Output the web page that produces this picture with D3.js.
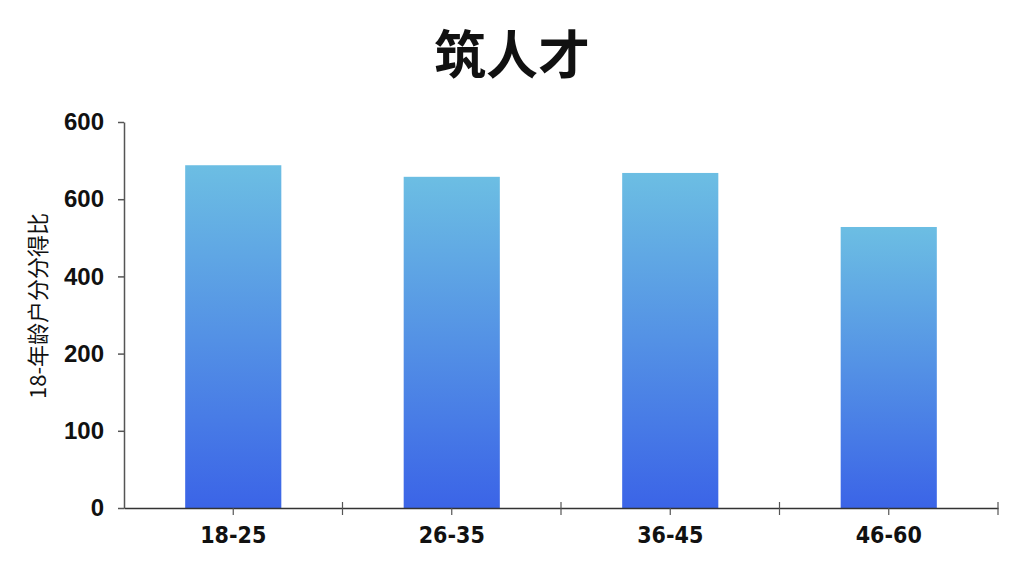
<!DOCTYPE html>
<html lang="zh">
<head>
<meta charset="UTF-8">
<title>筑人才</title>
<script src="https://cdnjs.cloudflare.com/ajax/libs/d3/7.8.5/d3.min.js"></script>
<style>
  body { margin: 0; background: #fff; }
  svg { display: block; }
</style>
</head>
<body>
<div id="chart"></div>
<script>
// data
var categories = ["18-25", "26-35", "36-45", "46-60"];
var values = [444, 429, 434, 364];
var tickValues = [0, 100, 200, 300, 400, 500];
var tickLabels = ["0", "100", "200", "400", "600", "600"];

var w = 1024, h = 576;
var margin = { top: 122, right: 26, bottom: 68, left: 124 };

var svg = d3.select("#chart").append("svg")
    .attr("width", w)
    .attr("height", h);

// gradient for the bars, light at the top
var grad = svg.append("defs").append("linearGradient")
    .attr("id", "barGrad")
    .attr("x1", 0).attr("y1", 0).attr("x2", 0).attr("y2", 1);
grad.append("stop").attr("offset", "0%").attr("stop-color", "#6cbee3");
grad.append("stop").attr("offset", "100%").attr("stop-color", "#3b64e7");

var x = d3.scaleBand()
    .domain(categories)
    .range([margin.left, w - margin.right])
    .paddingInner(0.56)
    .paddingOuter(0.28);

var xOuter = d3.scaleBand()
    .domain(categories)
    .range([margin.left, w - margin.right]);

var y = d3.scaleLinear()
    .domain([0, 500])
    .range([h - margin.bottom, margin.top]);

// title
svg.append("text")
    .attr("x", w / 2)
    .attr("y", 74)
    .attr("text-anchor", "middle")
    .attr("font-family", "'Noto Sans CJK SC', sans-serif")
    .attr("font-weight", "bold")
    .attr("font-size", "52px")
    .attr("fill", "#111")
    .text("筑人才");

// bars
svg.selectAll("rect.bar")
    .data(values)
    .enter()
    .append("rect")
    .attr("class", "bar")
    .attr("x", function(d, i) { return x(categories[i]); })
    .attr("y", function(d) { return y(d); })
    .attr("width", x.bandwidth())
    .attr("height", function(d) { return y(0) - y(d); })
    .attr("fill", "url(#barGrad)");

// y axis
var yAxis = svg.append("g")
    .attr("transform", "translate(" + margin.left + ",0)")
    .call(d3.axisLeft(y)
        .tickValues(tickValues)
        .tickSize(6)
        .tickSizeOuter(0)
        .tickPadding(14)
        .tickFormat(function(d, i) { return tickLabels[i]; }));
yAxis.select(".domain").attr("stroke", "#555").attr("stroke-width", 1.5);
yAxis.selectAll(".tick line").attr("stroke", "#555").attr("stroke-width", 1.5);
yAxis.selectAll(".tick text")
    .attr("font-family", "'Liberation Sans', Arial, sans-serif")
    .attr("font-weight", "bold")
    .attr("font-size", "24px")
    .attr("fill", "#111");

// x axis: ticks at band centres
var xAxis = svg.append("g")
    .attr("transform", "translate(0," + (h - margin.bottom) + ")")
    .call(d3.axisBottom(xOuter)
        .tickSize(7)
        .tickSizeOuter(0)
        .tickPadding(12));
xAxis.select(".domain").attr("stroke", "#333").attr("stroke-width", 1.5);
xAxis.selectAll(".tick line").attr("stroke", "#555").attr("stroke-width", 1.2);
xAxis.selectAll(".tick text")
    .attr("font-family", "'Liberation Sans Narrow', 'Arial Narrow', 'DejaVu Sans Condensed', sans-serif")
    .attr("font-weight", "bold")
    .attr("font-size", "23px")
    .attr("fill", "#111");

// separators between the groups, crossing the axis line
svg.append("g").selectAll("line.sep")
    .data(categories)
    .enter()
    .append("line")
    .attr("class", "sep")
    .attr("x1", function(d) { return xOuter(d) + xOuter.bandwidth(); })
    .attr("x2", function(d) { return xOuter(d) + xOuter.bandwidth(); })
    .attr("y1", y(0) - 6)
    .attr("y2", y(0) + 7)
    .attr("stroke", "#555")
    .attr("stroke-width", 1.2);

// y axis label
svg.append("text")
    .attr("transform", "translate(46,306) rotate(-90)")
    .attr("text-anchor", "middle")
    .attr("font-family", "'Noto Sans CJK SC', sans-serif")
    .attr("font-size", "22px")
    .attr("fill", "#111")
    .text("18-年龄户分分得比");
</script>
</body>
</html>
